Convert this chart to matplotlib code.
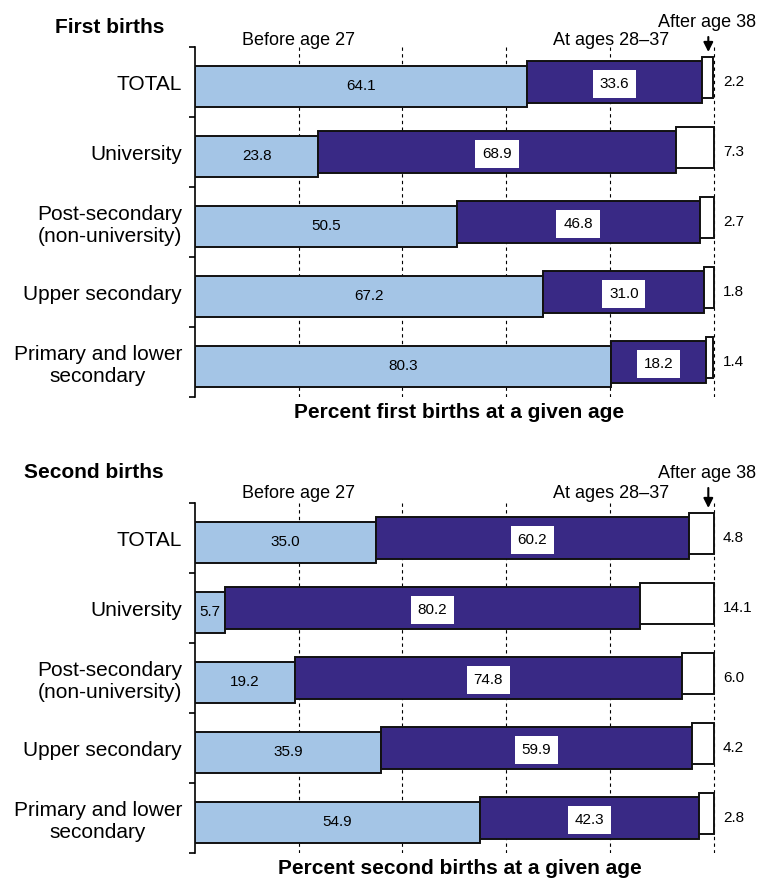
import numpy as np
import matplotlib.pyplot as plt

plt.rcParams['font.family'] = ['Liberation Sans', 'DejaVu Sans']

# data
categories = ['TOTAL', 'University', 'Post-secondary\n(non-university)',
              'Upper secondary', 'Primary and lower\nsecondary']
first_before = [64.1, 23.8, 50.5, 67.2, 80.3]
first_mid = [33.6, 68.9, 46.8, 31.0, 18.2]
first_after = [2.2, 7.3, 2.7, 1.8, 1.4]
second_before = [35.0, 5.7, 19.2, 35.9, 54.9]
second_mid = [60.2, 80.2, 74.8, 59.9, 42.3]
second_after = [4.8, 14.1, 6.0, 4.2, 2.8]
grid_ticks = [20, 40, 60, 80, 100]
header_labels = ['Before age 27', 'At ages 28\u201337', 'After age 38']

BLUE = '#a4c5e6'
PURPLE = '#392985'
W, H = 760, 881
PX = 72.0 / 100  # points per pixel


def draw_panel(ax, before, mid, after, title, xlabel, hdr_up, after_up, arrow_up, title_up):
    y = np.arange(len(categories))
    h = 0.59
    off = 0.06
    left_mid = np.array(before)
    left_after = left_mid + np.array(mid)
    kw = dict(edgecolor='#111111', linewidth=1.4, zorder=3)
    ax.barh(y + off, before, height=h, color=BLUE, **kw)
    ax.barh(y, mid, left=left_mid, height=h, color=PURPLE, **kw)
    ax.barh(y - off, after, left=left_after, height=h, color='white', **kw)

    for i in range(len(categories)):
        ax.text(before[i] / 2, y[i] + off, f'{before[i]:.1f}', ha='center', va='center',
                fontsize=11, zorder=5)
        ax.text(left_mid[i] + mid[i] / 2, y[i] + 0.03, f'{mid[i]:.1f}', ha='center',
                va='center', fontsize=11, zorder=5,
                bbox=dict(boxstyle='square,pad=0.45', fc='white', ec='none'))
        ax.text(101.8, y[i], f'{after[i]:.1f}', ha='left', va='center', fontsize=11)

    ax.set_xlim(0, 102)
    ax.set_ylim(len(categories) - 0.5, -0.5)
    ax.set_xticks(grid_ticks)
    ax.tick_params(axis='x', length=0, labelbottom=False)
    ax.grid(axis='x', color='black', linestyle=(0, (3, 3)), linewidth=0.8, zorder=0)
    ax.set_axisbelow(True)

    ax.set_yticks(y)
    ax.set_yticklabels(categories, fontsize=15)
    for lab in ax.get_yticklabels():
        lab.set_multialignment('center')
    ax.set_yticks(np.arange(len(categories) + 1) - 0.5, minor=True)
    ax.tick_params(axis='y', which='major', length=0, pad=13 * PX)
    ax.tick_params(axis='y', which='minor', length=6 * PX, width=1.2, direction='out')

    for s in ['top', 'right', 'bottom']:
        ax.spines[s].set_visible(False)
    ax.spines['left'].set_linewidth(1.2)

    # column headers
    ax.annotate(header_labels[0], xy=(20, -0.5), xytext=(0, hdr_up * PX),
                textcoords='offset points', ha='center', va='baseline', fontsize=13,
                annotation_clip=False)
    ax.annotate(header_labels[1], xy=(80.3, -0.5), xytext=(0, hdr_up * PX),
                textcoords='offset points', ha='center', va='baseline', fontsize=13,
                annotation_clip=False)
    ax.annotate(header_labels[2], xy=(98.8, -0.5), xytext=(0, after_up * PX),
                textcoords='offset points', ha='center', va='baseline', fontsize=13,
                annotation_clip=False)
    ax.annotate('', xy=(99.0, -0.5 + 5 / 70), xytext=(0, (arrow_up + 5) * PX),
                textcoords='offset points', annotation_clip=False,
                arrowprops=dict(arrowstyle='-|>', color='black', lw=1.5,
                                mutation_scale=14, shrinkA=0, shrinkB=0))

    ax.annotate(title, xy=(0, 1), xycoords='axes fraction', xytext=(-31 * PX, title_up * PX),
                textcoords='offset points', ha='right', va='baseline', fontsize=15,
                fontweight='bold', annotation_clip=False)
    ax.annotate(xlabel, xy=(0.5, 0), xycoords='axes fraction', xytext=(0, -16 * PX),
                textcoords='offset points', ha='center', va='center', fontsize=15,
                fontweight='bold', annotation_clip=False)


fig = plt.figure(figsize=(W / 100, H / 100), dpi=100)
ax_w = 518.5 * 1.02 / W
ax1 = fig.add_axes([195 / W, 1 - 397 / H, ax_w, 350 / H])
ax2 = fig.add_axes([195 / W, 1 - 853 / H, ax_w, 350 / H])

draw_panel(ax1, first_before, first_mid, first_after, 'First births',
           'Percent first births at a given age', 2, 20, 10, 14)
draw_panel(ax2, second_before, second_mid, second_after, 'Second births',
           'Percent second births at a given age', 5, 25, 15, 25)

fig.savefig('out.png', dpi=100)
